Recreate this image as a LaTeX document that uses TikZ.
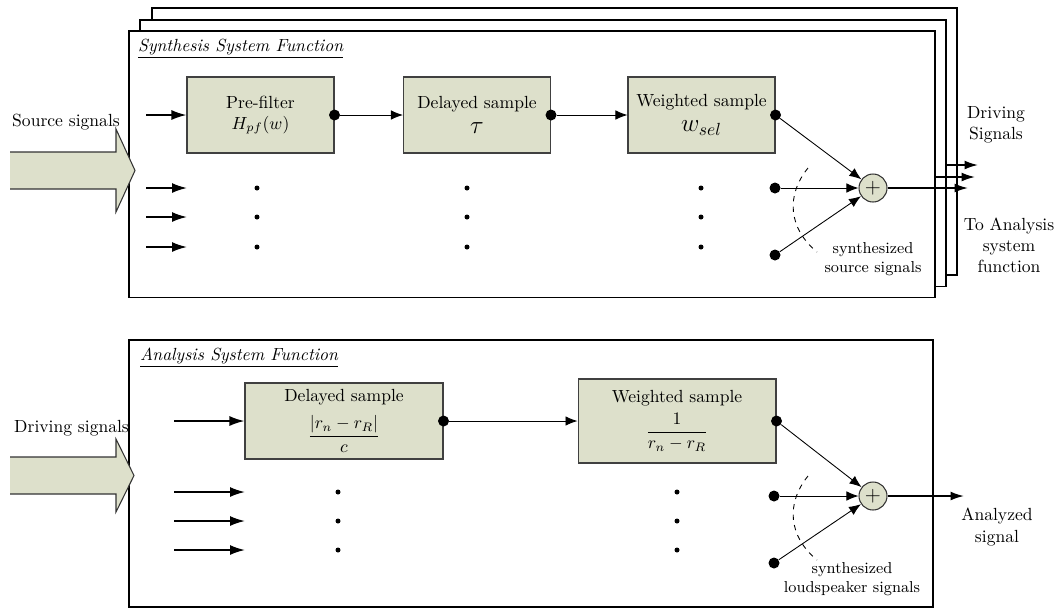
\documentclass[tikz,border=0pt]{standalone}
\usepackage{amsmath}
\usetikzlibrary{arrows.meta,positioning}
\definecolor{blockgreen}{RGB}{221,224,203}

\begin{document}
\begin{tikzpicture}[x=0.02cm,y=-0.02cm,
  frame/.style={draw,rectangle,line width=1.1pt,fill=white,minimum width=16.12cm,minimum height=5.34cm},
  block/.style={draw=black!75,line width=0.6pt,rectangle,fill=blockgreen,minimum width=2.94cm,minimum height=1.52cm,align=center,inner sep=1pt},
  sum/.style={draw=black!80,line width=0.6pt,circle,fill=blockgreen,minimum size=0.56cm,inner sep=0pt},
  bigdot/.style={circle,fill=black,minimum size=0.22cm,inner sep=0pt},
  smalldot/.style={circle,fill=black,minimum size=0.1cm,inner sep=0pt},
  inarrow/.style={line width=1pt,-{Latex[length=0.3cm,width=0.2cm]}},
  link/.style={line width=0.5pt,-{Latex[length=0.24cm,width=0.19cm]}},
  outarrow/.style={line width=1pt,-{Latex[length=0.27cm,width=0.18cm]}},
  bigarrow/.style={draw=black!80,fill=blockgreen,line width=0.6pt},
  title/.style={anchor=west,font=\itshape},
  note/.style={align=center,font=\small}]
\useasboundingbox (0,0) rectangle (1061,610);

% Synthesis frames (stacked)
\node[frame] (synth3) at (554.5,141.5) {};
\node[frame] (synth2) at (543,153) {};
\node[frame] (synth1) at (532,164) {};
\node[title] (synthtitle) at (132,49) {\underline{Synthesis System Function}};

% Source signals
\node[anchor=west] (srclbl) at (6,122) {Source signals};
\filldraw[bigarrow] (10,152) -- (116,152) -- (116,129) -- (135,170.5) -- (116,212) -- (116,189) -- (10,189);

% Blocks
\node[block] (prefilter) at (260.5,115) {Pre-filter\\ $H_{pf}(w)$};
\node[block] (delay) at (477,115) {Delayed sample\\[2pt] {\Large$\tau$}};
\node[block] (weight) at (701.5,115) {Weighted sample\\[2pt] {\Large$w_{sel}$}};
\node[bigdot] (prefilter-out) at (prefilter.east) {};
\node[bigdot] (delay-out) at (delay.east) {};
\node[bigdot] (weight-out) at (weight.east) {};
\coordinate (prefilter-in) at (146,115);
\draw[inarrow] (prefilter-in) -- (prefilter);
\draw[link] (prefilter-out) -- (delay);
\draw[link] (delay-out) -- (weight);

% Other channels
\foreach \y [count=\i] in {188,217,247} {
  \coordinate (srcA\i) at (146,\y);
  \coordinate (tipA\i) at (187,\y);
  \draw[inarrow] (srcA\i) -- (tipA\i);
  \node[smalldot] (dotpf\i) at (257,\y) {};
  \node[smalldot] (dotdl\i) at (467,\y) {};
  \node[smalldot] (dotwt\i) at (701,\y) {};
}

% Sum
\node[sum] (sumA) at (873,188) {\large$+$};
\node[bigdot] (chA2) at (775,188) {};
\node[bigdot] (chA3) at (775,255) {};
\draw[link] (weight-out) -- (sumA);
\draw[link] (chA2) -- (sumA);
\draw[link] (chA3) -- (sumA);
\draw[dashed,line width=0.5pt] (808,168) .. controls (786,195) and (788,228) .. (817,252);
\node[note] (synthnote) at (873,259) {synthesized\\source signals};

% Driving signals out
\coordinate (drvA) at (978,165);
\coordinate (drvB) at (975,177);
\coordinate (drvC) at (968,188);
\draw[outarrow] (synth2.east |- drvA) -- (drvA);
\draw[outarrow] (synth1.east |- drvB) -- (drvB);
\draw[outarrow] (sumA) -- (drvC);
\node[align=center] (drvlbl) at (996,125) {Driving\\Signals};
\node[align=center] (tolbl) at (1009,245) {To Analysis\\system\\function};

% Analysis frame
\node[frame,minimum width=16.08cm] (anal) at (531,473.5) {};
\node[title] (analtitle) at (134,358) {\underline{Analysis System Function}};

% Driving signals in
\node[anchor=west] (drvinlbl) at (8,428) {Driving signals};
\filldraw[bigarrow] (10,457) -- (116,457) -- (116,439) -- (134,475.5) -- (116,512) -- (116,494) -- (10,494);

% Blocks
\node[block,minimum width=3.96cm] (delayB) at (344,421) {Delayed sample\\[5pt] $\dfrac{\lvert r_n-r_R\rvert}{c}$};
\node[block,minimum width=3.96cm,minimum height=1.68cm] (weightB) at (677,421) {Weighted sample\\[3pt] $\dfrac{1}{r_n-r_R}$};
\node[bigdot] (delayB-out) at (delayB.east) {};
\node[bigdot] (weightB-out) at (weightB.east) {};
\coordinate (delayB-in) at (174,421);
\draw[inarrow] (delayB-in) -- (delayB);
\draw[link] (delayB-out) -- (weightB);

% Other channels
\foreach \y [count=\i] in {492,521,550} {
  \coordinate (srcB\i) at (174,\y);
  \coordinate (tipB\i) at (245,\y);
  \draw[inarrow] (srcB\i) -- (tipB\i);
  \node[smalldot] (dotdB\i) at (338,\y) {};
  \node[smalldot] (dotwB\i) at (677,\y) {};
}

% Sum
\node[sum] (sumB) at (873,496) {\large$+$};
\node[bigdot] (chB2) at (774,496) {};
\node[bigdot] (chB3) at (774,563) {};
\draw[link] (weightB-out) -- (sumB);
\draw[link] (chB2) -- (sumB);
\draw[link] (chB3) -- (sumB);
\draw[dashed,line width=0.5pt] (808,476) .. controls (786,503) and (788,536) .. (817,560);
\node[note] (analnote) at (852,579) {synthesized\\loudspeaker signals};

% Output
\coordinate (anaout) at (964,496);
\draw[outarrow] (sumB) -- (anaout);
\node[align=center] (outlbl) at (997,527) {Analyzed\\signal};
\end{tikzpicture}
\end{document}
